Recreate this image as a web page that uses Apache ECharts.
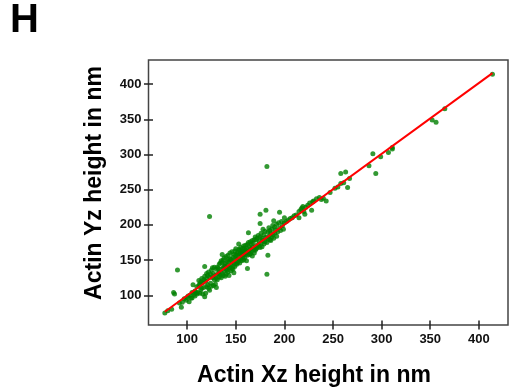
<!DOCTYPE html>
<html>
<head>
<meta charset="utf-8">
<script src="https://cdn.jsdelivr.net/npm/echarts@6/dist/echarts.min.js"></script>
<style>html,body{margin:0;padding:0;background:#fff}#c{width:512px;height:390px}</style>
</head>
<body>
<div id="c"></div>
<script>
// Actin heights (nm): Xz (x) vs Yz (y)
const xzHeight = [
77,80,84,86,87,90,92,94,95,97,99,100,101,102,103,104,105,105,106,107,108,108,109,110,110,
111,112,112,113,113,114,114,115,115,116,116,117,117,118,118,118,119,119,120,120,120,121,121,122,122,123,123,123,124,124,125,125,126,126,127,127,128,128,129,129,130,130,130,
131,131,132,132,133,133,133,134,134,135,135,135,136,136,136,137,137,137,138,138,138,139,139,139,140,140,140,141,141,141,142,142,142,143,143,143,144,144,144,145,145,145,146,146,146,147,147,147,148,148,148,149,149,149,150,150,150,
151,151,151,152,152,152,153,153,153,154,154,154,155,155,155,156,156,156,157,157,157,158,158,158,159,159,159,160,160,160,161,161,161,162,162,162,163,163,163,164,164,164,165,165,165,166,166,167,167,167,168,168,169,169,170,170,170,
171,171,172,172,173,173,174,174,175,175,175,175,176,176,177,177,178,178,179,179,180,180,181,181,182,182,182,183,183,183,184,184,185,185,186,186,187,187,188,188,189,189,190,190,191,192,192,193,194,195,195,196,197,198,199,200,200,
202,204,206,208,210,212,215,215,217,218,219,220,221,222,224,226,228,229,230,233,236,238,240,243,247,252,255,258,261,265,
258,263,267,287,291,294,299,307,311,311,352,356,365,414
];
const yzHeight = [
75,78,80,104,102,136,89,83,90,95,93,97,99,91,100,96,104,96,115,101,106,99,104,112,102,
104,114,121,103,116,119,108,110,124,118,102,122,111,98,127,141,103,120,124,112,131,115,128,110,133,212,126,107,130,117,136,113,125,139,131,114,122,140,128,116,137,124,111,
122,140,131,138,126,144,133,129,146,137,125,149,158,131,147,128,150,139,134,153,142,145,127,141,137,155,130,148,136,142,151,133,157,139,147,128,152,140,160,135,151,143,148,138,162,154,141,137,158,146,132,152,163,141,157,145,166,
144,159,152,161,147,156,173,150,165,158,146,164,152,168,160,163,149,157,154,167,161,170,150,158,166,153,162,158,171,164,149,167,160,138,172,157,189,163,175,158,169,161,176,166,159,173,162,178,168,156,174,165,160,179,169,183,164,
166,179,181,168,172,185,177,170,215,183,202,168,174,188,181,169,194,178,186,173,191,176,221,182,283,130,175,157,190,180,184,196,179,192,188,178,194,183,199,186,206,181,197,188,193,201,184,190,203,218,196,192,205,199,194,210,203,
205,207,209,210,213,214,210,219,222,224,226,219,215,225,228,231,221,233,234,237,239,236,238,234,246,252,254,259,260,253,
273,275,266,284,301,273,297,303,308,310,349,346,365,414
];
// Linear fit line endpoints
const fitX = [77, 414];
const fitY = [76.7, 415.6];
const tickValues = [100, 150, 200, 250, 300, 350, 400];
const xLabel = 'Actin Xz height in nm';
const yLabel = 'Actin Yz height in nm';
const panelLetter = 'H';

const pts = xzHeight.map((x, i) => [x, yzHeight[i]]);
const chart = echarts.init(document.getElementById('c'), null, {renderer: 'canvas'});
const FONT = '"Liberation Sans", Arial, sans-serif';
const tickFmt = v => String(v);
function mkAxis(min, max, pos, inside, labels, margin) {
  return {
    type: 'value', min: min, max: max, position: pos,
    splitLine: {show: false},
    axisLine: {show: false},
    axisTick: {show: true, inside: inside, length: 4.5, customValues: tickValues,
      lineStyle: {color: '#222', width: 1.5}},
    axisLabel: {show: labels, customValues: tickValues, margin: margin,
      color: '#111', fontSize: 13, fontWeight: 'bold', fontFamily: FONT, formatter: tickFmt}
  };
}
chart.setOption({
  animation: false,
  grid: {left: 148.5, right: 4, top: 60, bottom: 65, show: true,
    borderColor: '#444', borderWidth: 1.5, backgroundColor: 'transparent'},
  xAxis: [mkAxis(60.2, 430, 'bottom', false, true, 8), mkAxis(60.2, 430, 'bottom', true, false, 8)],
  yAxis: [mkAxis(57.8, 434.3, 'left', false, true, 7), mkAxis(57.8, 434.3, 'left', true, false, 7)],
  series: [
    {type: 'scatter', data: pts, symbolSize: 5, itemStyle: {color: '#008000'}, z: 2},
    {type: 'line', data: fitX.map((x, i) => [x, fitY[i]]), showSymbol: false,
      lineStyle: {color: '#ff0000', width: 2}, z: 3}
  ],
  graphic: [
    {type: 'text', left: 10, top: 1, style: {text: panelLetter, fontSize: 40, fontWeight: 'bold', fontFamily: FONT, fill: '#000'}},
    {type: 'text', x: 314, y: 376, style: {text: xLabel, fontSize: 23, fontWeight: 'bold', fontFamily: FONT, fill: '#000', align: 'center', verticalAlign: 'middle'}},
    {type: 'text', x: 95, y: 183, rotation: Math.PI / 2, style: {text: yLabel, fontSize: 23, fontWeight: 'bold', fontFamily: FONT, fill: '#000', align: 'center', verticalAlign: 'middle'}}
  ]
});
</script>
</body>
</html>
